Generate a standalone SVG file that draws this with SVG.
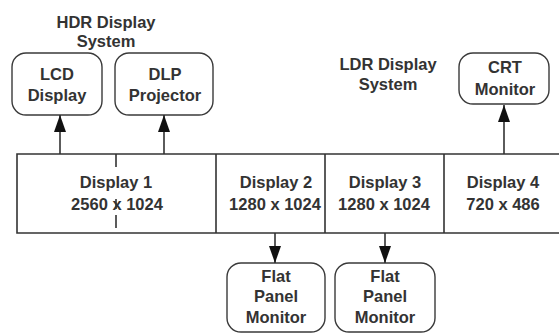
<svg xmlns="http://www.w3.org/2000/svg" width="559" height="333" viewBox="0 0 559 333">
<style>
text{font-family:"Liberation Sans",Arial,sans-serif;font-weight:bold;font-size:16.5px;fill:#333;text-anchor:middle}
.box{fill:#fff;stroke:#3a3a3a;stroke-width:1.4}
.ln{stroke:#333;stroke-width:1.6;fill:none}
</style>
<defs>
<marker id="ah" viewBox="0 0 17 12" refX="17" refY="6" markerWidth="17" markerHeight="12" markerUnits="userSpaceOnUse" orient="auto">
<path d="M0,0 L17,6 L0,12 z" fill="#111"/>
</marker>
</defs>
<g id="labels">
<text x="106" y="28">HDR Display</text>
<text x="106" y="47">System</text>
<text x="388" y="70">LDR Display</text>
<text x="388" y="90">System</text>
</g>
<g id="strip">
<path class="ln" d="M559,154 H17 V233 H559 M216,154 V233 M325,154 V233 M444,154 V233"/>
<path class="ln" stroke-width="1.3" d="M116,154 V167 M116,199 V209 M116,215 V228"/>
<text x="116" y="188">Display 1</text>
<text x="117" y="210">2560 x 1024</text>
<text x="276" y="188">Display 2</text>
<text x="275" y="210">1280 x 1024</text>
<text x="385" y="188">Display 3</text>
<text x="384" y="210">1280 x 1024</text>
<text x="503" y="188">Display 4</text>
<text x="503" y="210">720 x 486</text>
</g>
<g id="lcd">
<rect class="box" x="12" y="53" width="90" height="62" rx="14"/>
<text x="57" y="80">LCD</text>
<text x="57" y="101">Display</text>
</g>
<g id="dlp">
<rect class="box" x="115" y="53" width="98" height="62" rx="14"/>
<text x="165" y="80">DLP</text>
<text x="165" y="101">Projector</text>
</g>
<g id="crt">
<rect class="box" x="459" y="53" width="90" height="51" rx="14"/>
<text x="505" y="73">CRT</text>
<text x="505" y="95">Monitor</text>
</g>
<g id="flat1">
<rect class="box" x="227" y="263" width="98" height="69" rx="14"/>
<text x="276" y="282">Flat</text>
<text x="276" y="302">Panel</text>
<text x="276" y="323">Monitor</text>
</g>
<g id="flat2">
<rect class="box" x="335" y="263" width="100" height="69" rx="14"/>
<text x="385" y="282">Flat</text>
<text x="385" y="302">Panel</text>
<text x="385" y="323">Monitor</text>
</g>
<g id="connectors">
<line class="ln" x1="60" y1="154" x2="60" y2="115" marker-end="url(#ah)"/>
<line class="ln" x1="164" y1="154" x2="164" y2="115" marker-end="url(#ah)"/>
<line class="ln" x1="504" y1="154" x2="504" y2="105" marker-end="url(#ah)"/>
<line class="ln" x1="275" y1="233" x2="275" y2="263" marker-end="url(#ah)"/>
<line class="ln" x1="385" y1="233" x2="385" y2="263" marker-end="url(#ah)"/>
</g>
</svg>
